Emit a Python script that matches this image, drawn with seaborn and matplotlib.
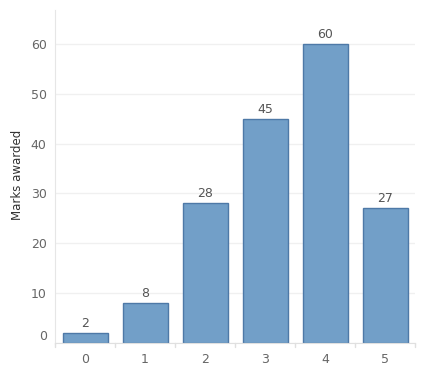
import matplotlib
matplotlib.use("Agg")
import matplotlib.pyplot as plt
import matplotlib.transforms as mtransforms
import seaborn as sns
import pandas as pd

# Data
categories = ["0", "1", "2", "3", "4", "5"]
marks = [2, 8, 28, 45, 60, 27]
y_ticks = [0, 10, 20, 30, 40, 50, 60]

df = pd.DataFrame({"score": categories, "marks": marks})

sns.set_style("white")
plt.rcParams["font.family"] = ["DejaVu Sans"]

fig = plt.figure(figsize=(4.29, 3.74), dpi=100)
ax = fig.add_axes([55 / 429, 1 - 343 / 374, 360 / 429, 333 / 374])

sns.barplot(data=df, x="score", y="marks", color="#729fc8", width=0.75,
            edgecolor="#4e79a7", linewidth=1, saturation=1, ax=ax)

# value labels
for i, v in enumerate(marks):
    ax.text(i, v + 0.6, str(v), ha="center", va="bottom", fontsize=9, color="#555555")

ax.set_ylim(0, 66.8)
ax.set_xlim(-0.5, 5.5)
ax.set_yticks(y_ticks)
ax.set_yticklabels([str(t) for t in y_ticks])
ax.yaxis.grid(True, color="#f0f0f0", linewidth=1)
ax.set_axisbelow(True)
ax.tick_params(axis="y", length=0, labelsize=9, labelcolor="#666666", pad=6)
ax.tick_params(axis="x", length=0, labelsize=9, labelcolor="#666666", pad=7)

# shift the 0 label up like the original
lbl0 = ax.get_yticklabels()[0]
lbl0.set_transform(lbl0.get_transform() + mtransforms.ScaledTranslation(0, 8 / 100, fig.dpi_scale_trans))

# separator ticks under the axis
for b in [-0.5, 0.5, 1.5, 2.5, 3.5, 4.5, 5.5]:
    ax.plot([b, b], [0, -0.9], color="#e0e0e0", linewidth=1, clip_on=False)

for s in ["top", "right"]:
    ax.spines[s].set_visible(False)
ax.spines["left"].set_color("#e6e6e6")
ax.spines["bottom"].set_color("#e0e0e0")

ax.set_xlabel("")
ax.set_ylabel("Marks awarded", fontsize=8.5, color="#333333")
ax.yaxis.set_label_coords(-0.087, 0.505)

fig.savefig("out.png", dpi=100)
